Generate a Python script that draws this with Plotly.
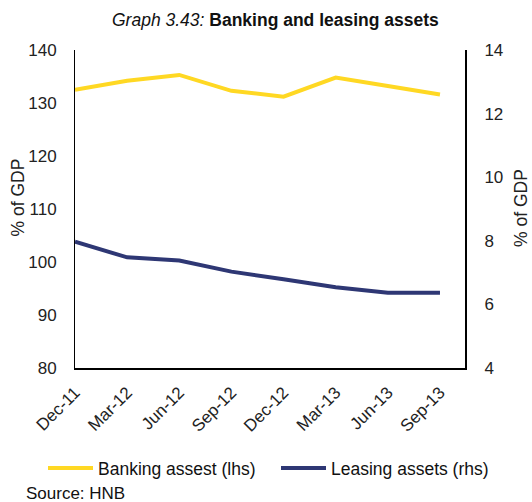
import plotly.graph_objects as go

categories = ["Dec-11", "Mar-12", "Jun-12", "Sep-12", "Dec-12", "Mar-13", "Jun-13", "Sep-13"]
banking = [132.5, 134.2, 135.3, 132.3, 131.2, 134.8, 133.2, 131.6]
leasing = [7.97, 7.48, 7.38, 7.03, 6.79, 6.54, 6.37, 6.37]

FONT = "Liberation Sans, Arial, sans-serif"
YELLOW = "#FFD823"
NAVY = "#2E3774"
L, R, T, B, W, H = 75, 67, 50, 134, 532, 502
PW, PH = W - L - R, H - T - B


def px(x):
    return (x - L) / PW


def py(y):
    return (H - B - y) / PH


fig = go.Figure()
fig.add_trace(go.Scatter(x=categories, y=banking, name="Banking assest (lhs)", mode="lines",
                         line=dict(color=YELLOW, width=4), yaxis="y", legend="legend"))
fig.add_trace(go.Scatter(x=categories, y=leasing, name="Leasing assets (rhs)", mode="lines",
                         line=dict(color=NAVY, width=4), yaxis="y2", legend="legend2"))

leg = dict(orientation="h", xanchor="left", yanchor="middle",
           font=dict(size=17.5, color="#111"), itemwidth=45, bgcolor="rgba(0,0,0,0)")

fig.update_layout(
    width=W, height=H,
    margin=dict(l=L, r=R, t=T, b=B),
    paper_bgcolor="white", plot_bgcolor="white",
    font=dict(family=FONT, size=17, color="#222"),
    showlegend=True,
    legend=dict(leg, x=px(43), y=py(468)),
    legend2=dict(leg, x=px(276), y=py(468)),
    xaxis=dict(type="category", range=[0, 7.48], showgrid=False, showline=True,
               linecolor="black", linewidth=2, tickangle=-45, ticks="", automargin=False,
               ticklabelstandoff=6, tickfont=dict(size=17, color="#222")),
    yaxis=dict(range=[80, 140], dtick=10, showgrid=False, showline=True, linecolor="black",
               linewidth=1, ticks="", zeroline=False, ticklabelstandoff=14, automargin=False,
               tickfont=dict(size=17)),
    yaxis2=dict(range=[4, 14], dtick=2, overlaying="y", side="right", showgrid=False,
                showline=True, linecolor="black", linewidth=2, ticks="", zeroline=False,
                ticklabelstandoff=14, automargin=False, tickfont=dict(size=17)),
    annotations=[
        dict(text="<i>Graph 3.43:</i> <b>Banking and leasing assets</b>", xref="paper",
             yref="paper", x=px(275), y=py(20), xanchor="center", yanchor="middle",
             showarrow=False, font=dict(size=17.5, color="#111")),
        dict(text="% of GDP", xref="paper", yref="paper", x=px(17.5), y=py(198),
             xanchor="center", yanchor="middle", textangle=-90, showarrow=False,
             font=dict(size=17.5, color="#222")),
        dict(text="% of GDP", xref="paper", yref="paper", x=px(521), y=py(208),
             xanchor="center", yanchor="middle", textangle=-90, showarrow=False,
             font=dict(size=17.5, color="#222")),
        dict(text="Source: HNB", xref="paper", yref="paper", x=px(24), y=py(493),
             xanchor="left", yanchor="middle", showarrow=False,
             font=dict(size=17, color="#111")),
    ],
)

fig.write_html("out.html", config={"displayModeBar": False},
               post_script="document.body.style.margin='0';")
